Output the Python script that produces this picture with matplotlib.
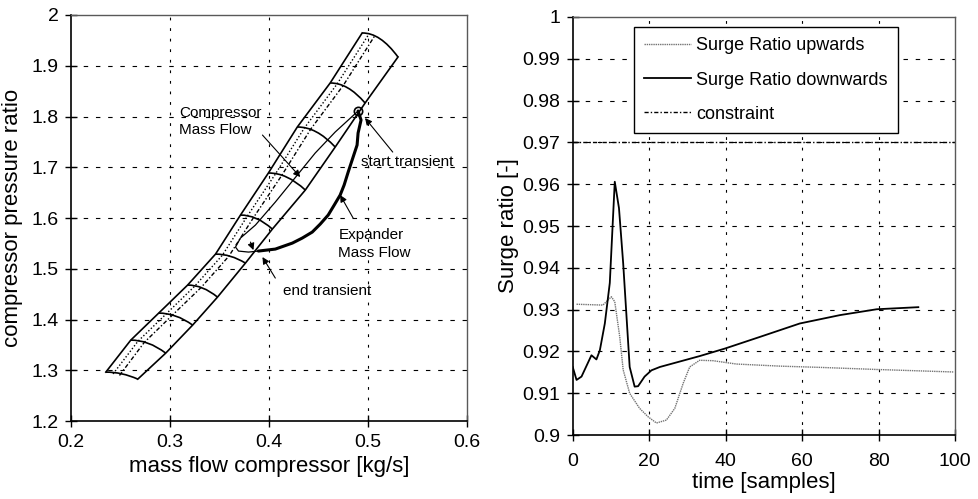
import matplotlib
matplotlib.use("Agg")
import matplotlib.pyplot as plt
from matplotlib.path import Path
from matplotlib.patches import PathPatch

plt.rcParams['font.family'] = ['Liberation Sans', 'DejaVu Sans']

# ---------------- compressor map (left panel) ----------------
# speed lines: left end (surge side) and right end (choke side)
speed_left_x = [0.2352, 0.2604, 0.2886, 0.3178, 0.3460, 0.3712, 0.3994, 0.4286, 0.4618, 0.4941]
speed_left_y = [1.2966, 1.3596, 1.4128, 1.4680, 1.5290, 1.6059, 1.6887, 1.7793, 1.8660, 1.9645]
speed_right_x = [0.2675, 0.2957, 0.3229, 0.3480, 0.3762, 0.4034, 0.4367, 0.4669, 0.4971, 0.5303]
speed_right_y = [1.2828, 1.3340, 1.3892, 1.4443, 1.5113, 1.5783, 1.6552, 1.7399, 1.8266, 1.9172]

# surge margin lines
margin1_x = [0.2425, 0.2675, 0.2955, 0.3248, 0.3530, 0.3782, 0.4064, 0.4356, 0.4688, 0.5005]
margin1_y = [1.2930, 1.3570, 1.4100, 1.4655, 1.5270, 1.6040, 1.6865, 1.7770, 1.8640, 1.9610]
margin2_x = [0.2490, 0.2740, 0.3020, 0.3313, 0.3595, 0.3847, 0.4129, 0.4421, 0.4753, 0.5065]
margin2_y = [1.2900, 1.3550, 1.4080, 1.4630, 1.5250, 1.6020, 1.6840, 1.7750, 1.8620, 1.9580]

# transient trajectories
comp_x = [0.4900, 0.4669, 0.4467, 0.4286, 0.4064, 0.3863, 0.3712, 0.3662, 0.3692, 0.3793, 0.3893]
comp_y = [1.8108, 1.7695, 1.7281, 1.6847, 1.6315, 1.5862, 1.5606, 1.5429, 1.5350, 1.5330, 1.5350]
exp_x = [0.4900, 0.4930, 0.4900, 0.4890, 0.4840, 0.4800, 0.4759, 0.4719, 0.4659, 0.4598,
         0.4518, 0.4437, 0.4336, 0.4236, 0.4064, 0.3893]
exp_y = [1.8108, 1.7931, 1.7675, 1.7438, 1.7143, 1.6906, 1.6650, 1.6453, 1.6256, 1.6059,
         1.5882, 1.5724, 1.5606, 1.5507, 1.5389, 1.5350]

# ---------------- surge ratio (right panel) ----------------
down_t = [0, 1, 2.3, 4.9, 6.2, 7.1, 8.4, 9.7, 11.0, 12.1, 13.2, 14.9, 16.2, 17.1, 18.8, 20.6,
          22.8, 33.2, 39.8, 49.0, 59.4, 69.9, 79.5, 90.4]
down_sr = [0.9163, 0.9132, 0.9140, 0.9191, 0.9181, 0.9203, 0.9267, 0.9364, 0.9606, 0.9543,
           0.9411, 0.9163, 0.9116, 0.9117, 0.9140, 0.9155, 0.9163, 0.9189, 0.9207, 0.9235,
           0.9267, 0.9287, 0.9301, 0.9306]
up_t = [1.0, 7.9, 10.1, 11.0, 12.3, 13.2, 14.9, 17.5, 19.7, 21.9, 24.5, 26.7, 28.9, 30.6,
        33.2, 36.7, 42.8, 54.2, 64.7, 79.5, 99.6]
up_sr = [0.9313, 0.9311, 0.9331, 0.9319, 0.9235, 0.9156, 0.9100, 0.9064, 0.9044, 0.9029,
         0.9036, 0.9064, 0.9124, 0.9163, 0.9179, 0.9178, 0.9170, 0.9165, 0.9162, 0.9157, 0.9151]
constraint = 0.97

fig = plt.figure(figsize=(9.79, 4.99), dpi=100)
axL = fig.add_axes([0.0725, 0.156, 0.4045, 0.814])
axR = fig.add_axes([0.585, 0.128, 0.3905, 0.838])

grid_h = dict(color='black', linewidth=0.8, linestyle=(0, (4, 7)))
grid_v = dict(color='black', linewidth=0.8, linestyle=(0, (2.5, 7)))


def style_axes(ax, xticks, yticks, xfmt, yfmt, xpad):
    ax.set_xticks(xticks)
    ax.set_yticks(yticks)
    ax.set_xticklabels([xfmt(v) for v in xticks])
    ax.set_yticklabels([yfmt(v) for v in yticks])
    ax.tick_params(direction='inout', length=8, width=1, labelsize=14, pad=5, color='black')
    ax.tick_params(axis='x', pad=xpad)
    for yv in yticks[1:-1]:
        ax.axhline(yv, zorder=0, **grid_h)
    for xv in xticks[1:-1]:
        ax.axvline(xv, zorder=0, **grid_v)
    for side in ['left', 'bottom']:
        ax.spines[side].set_linewidth(1.2)
    for side in ['right', 'top']:
        ax.spines[side].set_linewidth(1.0)
        ax.spines[side].set_color('0.35')


def fmt(v):
    return f"{v:.2f}".rstrip('0').rstrip('.')


# ---- left panel
axL.set_xlim(0.2, 0.6)
axL.set_ylim(1.2, 2.0)
style_axes(axL, [0.2, 0.3, 0.4, 0.5, 0.6],
           [1.2, 1.3, 1.4, 1.5, 1.6, 1.7, 1.8, 1.9, 2.0], fmt, fmt, 5)

axL.plot(speed_left_x, speed_left_y, color='black', lw=1.2)
axL.plot(speed_right_x, speed_right_y, color='black', lw=1.2)
for xl, yl, xr, yr in zip(speed_left_x, speed_left_y, speed_right_x, speed_right_y):
    ctrl = (0.5 * (xl + xr), yl + 0.02 * (yl - yr))
    path = Path([(xl, yl), ctrl, (xr, yr)], [Path.MOVETO, Path.CURVE3, Path.CURVE3])
    axL.add_patch(PathPatch(path, facecolor='none', edgecolor='black', lw=1.2))

axL.plot(margin1_x, margin1_y, color='black', lw=1.0, linestyle=(0, (1, 1.5)))
axL.plot(margin2_x, margin2_y, color='black', lw=1.0, linestyle=(0, (3, 1.5, 1, 1.5)))

axL.plot(comp_x, comp_y, color='black', lw=0.9)
axL.plot(exp_x, exp_y, color='black', lw=2.2, solid_capstyle='round', solid_joinstyle='round')
axL.plot([comp_x[0]], [comp_y[0]], marker='o', ms=6, mfc='none', mec='black', mew=1.2)

arrow = dict(arrowstyle='-|>', color='black', lw=0.8, mutation_scale=10, shrinkA=0, shrinkB=0)
axL.text(0.3090, 1.7600, 'Compressor\nMass Flow', fontsize=11, ha='left', va='bottom',
         linespacing=1.25)
axL.annotate('', xy=(0.4316, 1.6808), xytext=(0.3934, 1.7635), arrowprops=arrow)
axL.annotate('', xy=(0.4719, 1.6453), xytext=(0.4850, 1.6000), arrowprops=arrow)
axL.text(0.4700, 1.5800, 'Expander\nMass Flow', fontsize=11, ha='left', va='top',
         linespacing=1.3)
axL.annotate('', xy=(0.4970, 1.7970), xytext=(0.5250, 1.7300), arrowprops=arrow)
axL.text(0.4930, 1.7100, 'start transient', fontsize=11, ha='left', va='center')
axL.annotate('', xy=(0.3934, 1.5232), xytext=(0.4064, 1.4818), arrowprops=arrow)
axL.text(0.4140, 1.4560, 'end transient', fontsize=11, ha='left', va='center')
axL.annotate('', xy=(0.3843, 1.5369), xytext=(0.3813, 1.5527), arrowprops=arrow)

axL.set_xlabel('mass flow compressor [kg/s]', fontsize=16, labelpad=4)
axL.set_ylabel('compressor pressure ratio', fontsize=16, labelpad=6)

# ---- right panel
axR.set_xlim(0, 100)
axR.set_ylim(0.9, 1.0)
style_axes(axR, [0, 20, 40, 60, 80, 100],
           [0.9, 0.91, 0.92, 0.93, 0.94, 0.95, 0.96, 0.97, 0.98, 0.99, 1.0],
           lambda v: f"{v:g}", fmt, 9)

l_up, = axR.plot(up_t, up_sr, color='0.45', lw=1.0, linestyle=(0, (1, 0.6)),
                 label='Surge Ratio upwards')
l_dn, = axR.plot(down_t, down_sr, color='black', lw=1.3, label='Surge Ratio downwards')
l_cn = axR.axhline(constraint, color='black', lw=1.0, linestyle=(0, (3, 1.5, 1, 1.5)),
                   label='constraint')

leg = axR.legend(handles=[l_up, l_dn, l_cn], loc='upper left', bbox_to_anchor=(0.16, 0.975),
                 fontsize=13, frameon=True, fancybox=False, edgecolor='black',
                 handlelength=2.6, handletextpad=0.3, borderpad=0.55, labelspacing=0.95,
                 borderaxespad=0)
leg.get_frame().set_linewidth(1.0)
leg.get_frame().set_alpha(1)

axR.set_xlabel('time [samples]', fontsize=16, labelpad=1)
axR.set_ylabel('Surge ratio [-]', fontsize=16, labelpad=2)

fig.savefig('out.png', dpi=100)
